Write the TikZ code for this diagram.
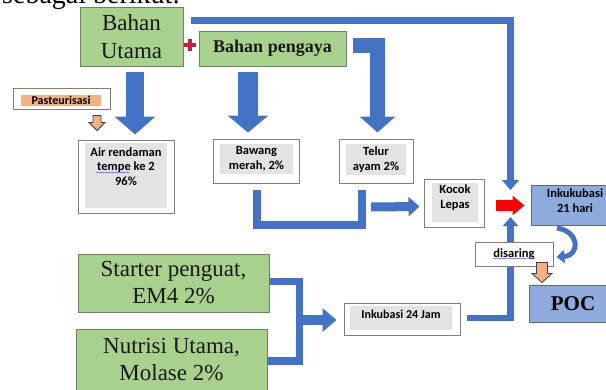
\documentclass[tikz,border=0pt]{standalone}
\usepackage{fontspec}
\setmainfont{Liberation Serif}
\newfontfamily\calib{Carlito}
\usetikzlibrary{arrows.meta,calc,decorations.pathmorphing}
\definecolor{gfill}{HTML}{A9D18E}
\definecolor{gbord}{HTML}{6E7F64}
\definecolor{barblue}{HTML}{4472C4}
\definecolor{lblue}{HTML}{8FAADC}
\definecolor{ofill}{HTML}{F4B183}
\definecolor{ifill}{HTML}{E3E3E3}
\definecolor{bgray}{HTML}{7F7F7F}
\definecolor{wavyc}{HTML}{5B6FD8}
\definecolor{plusred}{HTML}{C8203A}
\pgfdeclarelayer{behind}
\pgfsetlayers{behind,main}
\begin{document}
\begin{tikzpicture}[x=1pt,y=-1pt,
  greenbox/.style={draw=gbord, fill=gfill, line width=0.9pt, inner sep=0pt, align=center, text=black!90},
  outbox/.style={draw=bgray, fill=white, line width=1pt, inner sep=0pt, align=center},
  infill/.style={fill=ifill, inner sep=0pt, align=center, font=\calib\bfseries\fontsize{12.5}{14.5}\selectfont},
  lbl/.style={inner sep=0pt, align=center, font=\calib\bfseries\fontsize{12.5}{14.5}\selectfont},
  bluebox/.style={draw=black!60, fill=lblue, line width=1pt, inner sep=0pt, align=center},
  blockarr/.style={draw=barblue, line width=#1, line cap=butt},
  bar/.style={draw=barblue, line width=#1, line join=miter, line cap=butt},
  oarr/.style={draw=black!75, fill=ofill, line width=0.8pt, line join=miter},
  wavyline/.style={draw=wavyc, line width=0.5pt, decorate, decoration={snake, amplitude=0.6pt, segment length=2.5pt}},
]
\begin{pgfonlayer}{behind}
\fill[white] (0,0) rectangle (606,389);
\end{pgfonlayer}
\useasboundingbox (0,0) rectangle (606,389);

% partially visible text at the top
\begin{scope}
\clip (0,0) rectangle (606,389);
\node[anchor=base west, inner sep=0pt, font=\fontsize{28}{28}\selectfont] (topline) at (2,3) {sebagai berikut:};
\end{scope}

% nodes
\node[greenbox, minimum width=103pt, minimum height=59pt, font=\fontsize{23}{28}\selectfont] (utama) at (131.5,36.5) {Bahan\\Utama};
\node[greenbox, minimum width=147pt, minimum height=35pt, font=\fontsize{18}{20}\selectfont\bfseries] (pengaya) at (272.5,48.5) {Bahan pengaya};
\node[inner sep=0pt, minimum size=11pt] (plus) at (190,45) {};
\draw[plusred, line width=3.6pt] (plus.west) -- (plus.east) (plus.north) -- (plus.south);

\node[outbox, minimum width=97pt, minimum height=21pt] (pastBox) at (61.5,98.5) {};
\node[fill=ofill, inner sep=0pt, minimum width=80pt, minimum height=11pt, font=\calib\bfseries\fontsize{12}{12}\selectfont] (past) at (61,100.5) {Pasteurisasi};

\node[outbox, minimum width=96pt, minimum height=73pt] (air) at (126,176.5) {};
\node[fill=ifill, inner sep=0pt, minimum width=82pt, minimum height=65pt] (airIn) at (126,175.5) {};
\node[lbl] (airT) at (126,166.5) {Air rendaman\\tempe ke 2\\96\%};

\node[outbox, minimum width=86pt, minimum height=44pt] (bawang) at (256,161) {};
\node[infill, minimum width=73pt, minimum height=30pt] (bawangT) at (256.5,159) {Bawang\\merah, 2\%};

\node[outbox, minimum width=74pt, minimum height=44pt] (telur) at (376,161) {};
\node[infill, minimum width=60pt, minimum height=31pt] (telurT) at (376,159.5) {Telur\\ayam 2\%};

\node[outbox, minimum width=60pt, minimum height=48pt] (kocok) at (454,203) {};
\node[fill=ifill, inner sep=0pt, minimum width=46pt, minimum height=39pt] (kocokIn) at (455,202.5) {};
\node[lbl] (kocokT) at (455,197.5) {Kocok\\Lepas};

\node[bluebox, minimum width=88pt, minimum height=40pt] (ink21) at (575,205) {};
\node[lbl] (ink21T) at (575,200.5) {Inkukubasi\\21 hari};

\node[outbox, minimum width=78pt, minimum height=24pt, font=\calib\bfseries\fontsize{12.5}{14}\selectfont] (disaring) at (514,254) {disaring};

\node[bluebox, minimum width=88pt, minimum height=37pt, font=\fontsize{21}{21}\selectfont\bfseries] (poc) at (573,303.5) {POC};

\node[greenbox, minimum width=191pt, minimum height=58pt, font=\fontsize{23}{27}\selectfont] (starter) at (173.5,283) {Starter penguat,\\EM4 2\%};
\node[greenbox, minimum width=191pt, minimum height=61pt, font=\fontsize{23}{27}\selectfont] (nutrisi) at (171.5,359.5) {Nutrisi Utama,\\Molase 2\%};

\node[outbox, minimum width=116pt, minimum height=32pt] (ink24) at (402,319) {};
\node[fill=ifill, inner sep=0pt, minimum width=102pt, minimum height=24pt] (ink24In) at (401,318) {};
\node[lbl, font=\calib\bfseries\fontsize{12}{14}\selectfont] (ink24T) at (401,314.5) {Inkubasi 24 Jam};

% wavy spell-check underlines
\draw[wavyline] ($(airT.center)+(-30,6)$) -- ++(34,0);
\draw[wavyline] ($(disaring.center)+(-21,4.5)$) -- ++(42,0);

% connectors
\draw[bar=7pt, -{Triangle[width=17pt,length=10pt]}] ($(utama.north east)+(8,13.5)$) -| ($(ink21.west)+(-20,-15)$);
\draw[blockarr=18pt, -{Triangle[width=40pt,length=18pt]}] ($(utama.south)+(3.5,6)$) -- ($(air.north)+(9,-5)$);
\draw[blockarr=20pt, -{Triangle[width=40pt,length=17pt]}] ($(pengaya.south)+(-24.5,6)$) -- ($(bawang.north)+(-8,-6)$);
\draw[bar=15pt, -{Triangle[width=35pt,length=16pt]}] ($(pengaya.east)+(7,-3)$) -| ($(telur.north)+(1.5,-6)$);

\draw[oarr] ($(pastBox.south)+(35.5,6)$) ++(-4,0) -- ++(8,0) -- ++(0,7) -- ++(4,0) -- ++(-8,8) -- ++(-8,-8) -- ++(4,0) -- cycle;

\draw[bar=8pt] ($(bawang.south)+(1,6)$) -- ++(0,35.5) -| ($(telur.south)+(-14,6)$);
\draw[blockarr=9pt, -{Triangle[width=19pt,length=11pt]}] ($(telur.south)+(-5,23.5)$) -- ($(kocok.west)+(-4,3.5)$);
\draw[draw=red, line width=11pt, -{Triangle[width=19pt,length=12pt]}] ($(kocok.east)+(11,2.5)$) -- ($(ink21.west)+(-6,0.5)$);

\draw[bar=7.5pt] ($(starter.east)+(0,-1.5)$) -| ($(nutrisi.east)+(32,1.5)$) -- ($(nutrisi.east)+(0,1.5)$);
\draw[blockarr=10pt, -{Triangle[width=23pt,length=14pt]}] ($(starter.east)+(34,37)$) -- ($(ink24.west)+(-7,1)$);
\begin{pgfonlayer}{behind}
\draw[bar=6.5pt, -{Triangle[width=15pt,length=9pt]}] ($(ink24.east)+(6,-1)$) -| ($(ink21.west)+(-20,12)$);
\end{pgfonlayer}

\draw[draw=barblue, line width=5pt, -{Triangle[width=13pt,length=8pt]}] ($(ink21.south)+(-18,2.5)$) .. controls ($(ink21.south)+(5,6)$) and ($(ink21.south)+(5,30)$) .. ($(disaring.east)+(3,3)$);

\draw[oarr] ($(disaring.south)+(28,-4)$) ++(-5.5,0) -- ++(11,0) -- ++(0,11) -- ++(4.5,0) -- ++(-10,9) -- ++(-10,-9) -- ++(4.5,0) -- cycle;
\end{tikzpicture}
\end{document}
